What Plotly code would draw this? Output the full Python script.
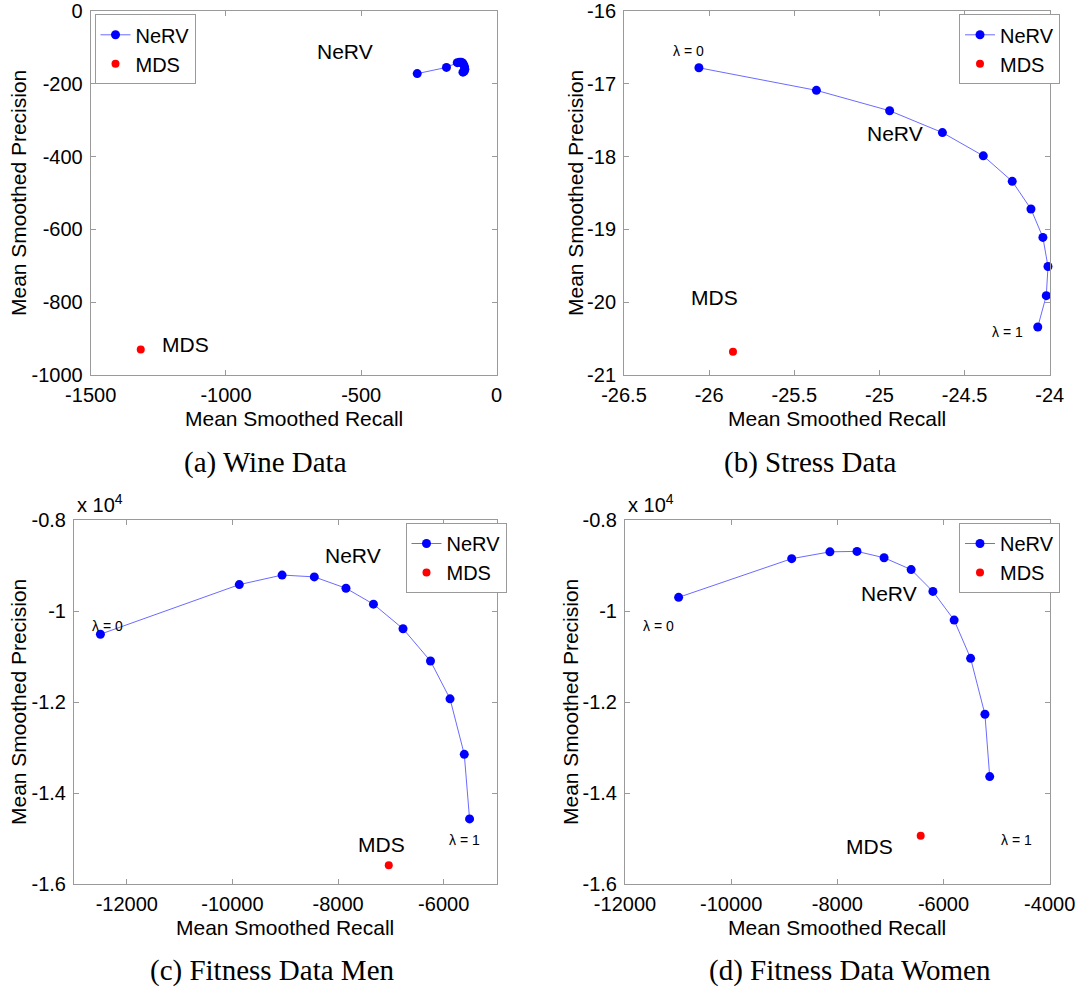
import plotly.graph_objects as go

W, H = 1078, 990

# ---------------- data ----------------
wine_nerv_x = [-293, -185, -145, -137, -130, -125, -121, -118, -117, -119, -124]
wine_nerv_y = [-172, -155, -142, -141, -141, -143, -148, -154, -160, -165, -168]
wine_mds_x = [-1315]
wine_mds_y = [-930]

stress_nerv_x = [-26.06, -25.37, -24.94, -24.63, -24.39, -24.22, -24.11, -24.04, -24.01, -24.02, -24.07]
stress_nerv_y = [-16.78, -17.09, -17.37, -17.67, -17.99, -18.34, -18.72, -19.11, -19.51, -19.91, -20.34]
stress_mds_x = [-25.86]
stress_mds_y = [-20.68]

men_nerv_x = [-12500, -9870, -9060, -8450, -7850, -7330, -6770, -6250, -5880, -5610, -5510]
men_nerv_y = [-10510, -9420, -9210, -9250, -9500, -9850, -10390, -11100, -11930, -13150, -14570]
men_mds_x = [-7040]
men_mds_y = [-15590]

women_nerv_x = [-10990, -8860, -8140, -7630, -7120, -6610, -6200, -5800, -5490, -5220, -5130]
women_nerv_y = [-9700, -8850, -8700, -8690, -8830, -9090, -9570, -10200, -11040, -12270, -13640]
women_mds_x = [-6430]
women_mds_y = [-14940]

captions = ["(a) Wine Data", "(b) Stress Data", "(c) Fitness Data Men", "(d) Fitness Data Women"]

wine_xticks = [-1500, -1000, -500, 0]
wine_yticks = [0, -200, -400, -600, -800, -1000]
stress_xticks = [-26.5, -26, -25.5, -25, -24.5, -24]
stress_yticks = [-16, -17, -18, -19, -20, -21]
men_xticks = [-12000, -10000, -8000, -6000]
women_xticks = [-12000, -10000, -8000, -6000, -4000]
fit_yticks = [-8000, -10000, -12000, -14000, -16000]
fit_yticktext = ["-0.8", "-1", "-1.2", "-1.4", "-1.6"]

# ---------------- layout helpers ----------------
def px(x):
    return x / W

def py(y):
    return 1 - y / H

SANS = "Liberation Sans, Arial, sans-serif"
SERIF = "Liberation Serif, Times New Roman, serif"
AXC = "#9a9a9a"
LINEC = "#6b6bff"

panels = [
    dict(nx=wine_nerv_x, ny=wine_nerv_y, mx=wine_mds_x, my=wine_mds_y,
         xr=[-1500, 0], yr=[-1000, 0], xt=wine_xticks, xtt=[str(v) for v in wine_xticks],
         yt=wine_yticks, ytt=[str(v) for v in wine_yticks],
         box=(90.7, 496.5, 11, 375), ytitle_x=18, leg=(94.5, 14.3), expo=False),
    dict(nx=stress_nerv_x, ny=stress_nerv_y, mx=stress_mds_x, my=stress_mds_y,
         xr=[-26.5, -24], yr=[-21, -16], xt=stress_xticks, xtt=[f"{v:g}" for v in stress_xticks],
         yt=stress_yticks, ytt=[str(v) for v in stress_yticks],
         box=(624, 1049.7, 11, 375), ytitle_x=575, leg=(959, 14.3), expo=False),
    dict(nx=men_nerv_x, ny=men_nerv_y, mx=men_mds_x, my=men_mds_y,
         xr=[-13000, -5000], yr=[-16000, -8000], xt=men_xticks, xtt=[str(v) for v in men_xticks],
         yt=fit_yticks, ytt=fit_yticktext,
         box=(74, 496.5, 520, 884), ytitle_x=18, leg=(405.5, 523), expo=True),
    dict(nx=women_nerv_x, ny=women_nerv_y, mx=women_mds_x, my=women_mds_y,
         xr=[-12000, -4000], yr=[-16000, -8000], xt=women_xticks, xtt=[str(v) for v in women_xticks],
         yt=fit_yticks, ytt=fit_yticktext,
         box=(625, 1049.7, 520, 884), ytitle_x=570, leg=(959, 523), expo=True),
]

caption_pos = [(265, 462), (810, 462), (272, 970), (850, 970)]

# text annotations inside panels (data coordinates)
inner_notes = [
    [("NeRV", -559, -112, 21), ("MDS", -1148, -916, 21)],
    [("λ = 0", -26.12, -16.55, 14), ("NeRV", -24.91, -17.68, 21), ("MDS", -25.97, -19.93, 21), ("λ = 1", -24.25, -20.41, 14)],
    [("λ = 0", -12370, -10320, 14), ("NeRV", -7710, -8780, 21), ("MDS", -7180, -15140, 21), ("λ = 1", -5610, -15040, 14)],
    [("λ = 0", -11370, -10320, 14), ("NeRV", -7020, -9610, 21), ("MDS", -7400, -15170, 21), ("λ = 1", -4620, -15040, 14)],
]

fig = go.Figure()
layout = dict(template="none", width=W, height=H, margin=dict(l=0, r=0, t=0, b=0, pad=0, autoexpand=False),
              paper_bgcolor="white", plot_bgcolor="white",
              font=dict(family=SANS, size=20, color="black"),
              showlegend=True)
annotations = []

for i, p in enumerate(panels):
    k = "" if i == 0 else str(i + 1)
    xa, ya = "x" + k, "y" + k
    legname = "legend" + k
    fig.add_trace(go.Scatter(x=p["nx"], y=p["ny"], mode="lines+markers", name="NeRV",
                             line=dict(color=LINEC, width=1),
                             marker=dict(color="#0000ff", size=9, line=dict(width=0)),
                             xaxis=xa, yaxis=ya, legend=legname, legendgroup=f"n{i}",
                             cliponaxis=False))
    fig.add_trace(go.Scatter(x=p["mx"], y=p["my"], mode="markers", name="MDS",
                             marker=dict(color="#ff0000", size=8, line=dict(width=0)),
                             xaxis=xa, yaxis=ya, legend=legname, legendgroup=f"m{i}",
                             cliponaxis=False))
    l, r, t, b = p["box"]
    axcommon = dict(showgrid=False, zeroline=False, showline=True, linecolor=AXC, linewidth=1,
                    mirror="allticks", ticks="inside", ticklen=5, tickcolor=AXC, automargin=False,
                    tickfont=dict(family=SANS, size=20, color="black"), fixedrange=True)
    layout["xaxis" + k] = dict(axcommon, domain=[px(l), px(r)], range=p["xr"], anchor=ya,
                               tickmode="array", tickvals=p["xt"], ticktext=p["xtt"],
                               ticklabelstandoff=2)
    layout["yaxis" + k] = dict(axcommon, domain=[py(b), py(t)], range=p["yr"], anchor=xa,
                               tickmode="array", tickvals=p["yt"], ticktext=p["ytt"],
                               ticklabelstandoff=3)
    lx, ly = p["leg"]
    layout[legname] = dict(x=px(lx), y=py(ly), xanchor="left", yanchor="top",
                           bgcolor="white", bordercolor=AXC, borderwidth=1,
                           font=dict(family=SANS, size=20, color="black"),
                           traceorder="grouped", tracegroupgap=0, itemwidth=30)
    # axis titles
    annotations.append(dict(text="Mean Smoothed Recall", xref="paper", yref="paper",
                            x=px((l + r) / 2), y=py(b + 43), xanchor="center", yanchor="middle",
                            showarrow=False, font=dict(family=SANS, size=21, color="black")))
    annotations.append(dict(text="Mean Smoothed Precision", xref="paper", yref="paper",
                            x=px(p["ytitle_x"]), y=py((t + b) / 2), xanchor="center", yanchor="middle",
                            textangle=-90, showarrow=False,
                            font=dict(family=SANS, size=21, color="black")))
    if p["expo"]:
        annotations.append(dict(text="x 10<sup>4</sup>", xref="paper", yref="paper",
                                x=px(l + 1), y=py(t - 2), xanchor="left", yanchor="bottom",
                                showarrow=False, font=dict(family=SANS, size=20, color="black")))
    for txt, tx, ty, fs in inner_notes[i]:
        annotations.append(dict(text=txt, xref=xa, yref=ya, x=tx, y=ty,
                                xanchor="center", yanchor="middle", showarrow=False,
                                font=dict(family=SANS, size=fs, color="black")))
    cx, cy = caption_pos[i]
    annotations.append(dict(text=captions[i], xref="paper", yref="paper",
                            x=px(cx), y=py(cy), xanchor="center", yanchor="middle",
                            showarrow=False, font=dict(family=SERIF, size=29, color="black")))

layout["annotations"] = annotations
fig.update_layout(**layout)
fig.write_html("out.html")
